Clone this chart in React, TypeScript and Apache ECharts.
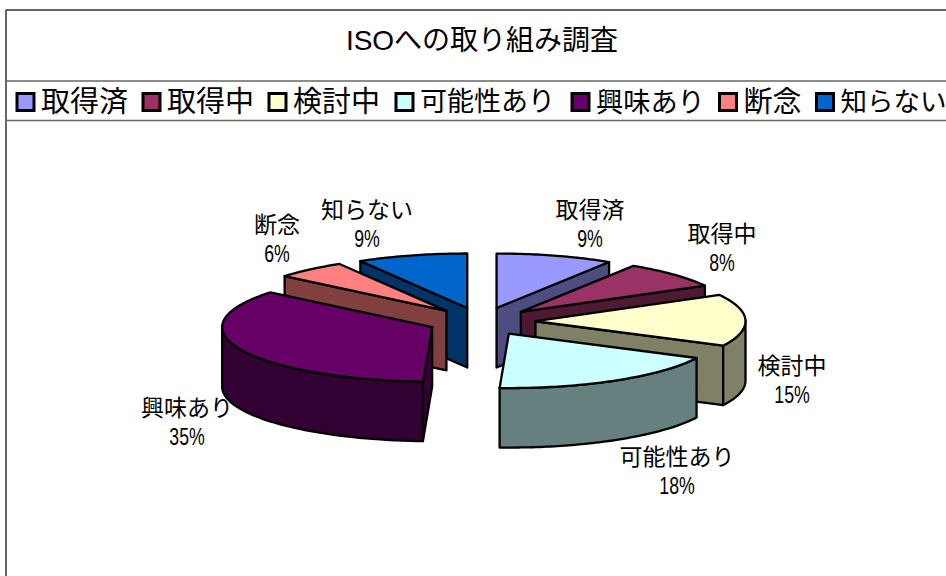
import React, { useEffect, useRef } from "react";
import * as echarts from "echarts";

const TITLE = "ISOへの取り組み調査";
const categories = ["取得済", "取得中", "検討中", "可能性あり", "興味あり", "断念", "知らない"];
const values = [9, 8, 15.4, 18.3, 35.3, 5.5, 8.5];
const topColors = ["#9999FF", "#993366", "#FFFFCC", "#CCFFFF", "#660066", "#FF8080", "#0066CC"];
const sideColors = ["#4D4D80", "#4D1933", "#808066", "#668080", "#330033", "#804040", "#003366"];

// layout only
const CENTER = { x: 481.5, y: 321.5 };
const RX = 210;
const RY = 54.5;
const DEPTH = 59.5;
const EXPLODE_X = 54;
const EXPLODE_Y = 14;
const FONT = '"Liberation Sans", "Noto Sans CJK JP", sans-serif';
const labelCenters = [
  [590, 225], [722, 249], [792, 381], [677, 472], [187, 423], [277, 240], [367, 225],
];
const legendLayout = [
  { left: 15.5, size: 29 }, { left: 141.5, size: 29 }, { left: 267.5, size: 29 },
  { left: 394.5, size: 27 }, { left: 570.5, size: 27.2 }, { left: 718, size: 29 }, { left: 815, size: 26.5 },
];

const total = values.reduce((a, b) => a + b, 0);
const rad = (d: number) => (d * Math.PI) / 180;
const slices = values.map((v, i) => {
  const before = values.slice(0, i).reduce((a, b) => a + b, 0);
  const a0 = (before / total) * 360;
  const a1 = ((before + v) / total) * 360;
  const mid = rad((a0 + a1) / 2);
  return {
    a0,
    a1,
    ax: CENTER.x + EXPLODE_X * Math.sin(mid),
    ay: CENTER.y - EXPLODE_Y * Math.cos(mid),
  };
});

function rim(ax: number, ay: number, from: number, to: number, dy = 0) {
  const pts: number[][] = [];
  const n = Math.max(2, Math.ceil(Math.abs(to - from)));
  for (let k = 0; k <= n; k++) {
    const t = rad(from + ((to - from) * k) / n);
    pts.push([ax + RX * Math.sin(t), ay - RY * Math.cos(t) + dy]);
  }
  return pts;
}

function renderSlice(i: number) {
  return () => {
    const { a0, a1, ax, ay } = slices[i];
    const lineStyle = { stroke: "#000", lineWidth: 2.3, lineJoin: "round" as const };
    const side = { ...lineStyle, fill: sideColors[i] };
    const children: any[] = [];
    const radial = (theta: number) => {
      const [p] = rim(ax, ay, theta, theta + 1).slice(0, 1);
      children.push({
        type: "polygon",
        shape: { points: [[ax, ay], p, [p[0], p[1] + DEPTH], [ax, ay + DEPTH]] },
        style: side,
      });
    };
    if (Math.sin(rad(a0)) < -1e-6) radial(a0);
    if (Math.sin(rad(a1)) > 1e-6) radial(a1);
    const from = Math.max(a0, 90);
    const to = Math.min(a1, 270);
    if (to > from) {
      children.push({
        type: "polygon",
        shape: { points: [...rim(ax, ay, from, to), ...rim(ax, ay, to, from, DEPTH)] },
        style: side,
      });
    }
    children.push({
      type: "polygon",
      shape: { points: [[ax, ay], ...rim(ax, ay, a0, a1)] },
      style: { ...lineStyle, fill: topColors[i] },
    });
    const [lx, ly] = labelCenters[i];
    children.push({
      type: "text",
      x: lx,
      y: ly - 15.5,
      style: {
        text: categories[i],
        font: `23px ${FONT}`,
        fill: "#000",
        align: "center",
        verticalAlign: "middle",
      },
    });
    children.push({
      type: "text",
      x: lx,
      y: ly + 14,
      scaleX: 0.77,
      style: {
        text: `${Math.round((values[i] / total) * 100)}%`,
        font: `23px ${FONT}`,
        fill: "#000",
        align: "center",
        verticalAlign: "middle",
      },
    });
    return { type: "group", children };
  };
}

const paintOrder = categories.map((_, i) => i).sort((p, q) => slices[p].ay - slices[q].ay);

export default function App() {
  const ref = useRef<HTMLDivElement>(null);
  useEffect(() => {
    document.body.style.margin = "0";
    const chart = echarts.init(ref.current!, undefined, { renderer: "svg" });
    const rule = (x1: number, y1: number, x2: number, y2: number, stroke: string) => ({
      type: "line",
      shape: { x1, y1, x2, y2 },
      style: { stroke, lineWidth: 1.5 },
      silent: true,
    });
    chart.setOption({
      animation: false,
      backgroundColor: "#fff",
      title: {
        text: TITLE,
        left: 482,
        top: 40,
        textAlign: "center",
        textVerticalAlign: "middle",
        padding: 0,
        textStyle: { fontFamily: FONT, fontSize: 28, fontWeight: "normal", color: "#000" },
      },
      legend: categories.map((name, i) => ({
        data: [name],
        left: legendLayout[i].left,
        top: 86,
        padding: 0,
        itemWidth: 17,
        itemHeight: 17,
        icon: "rect",
        selectedMode: false,
        itemStyle: { borderColor: "#000", borderWidth: 3, borderJoin: "miter" },
        textStyle: {
          fontFamily: FONT,
          fontSize: legendLayout[i].size,
          lineHeight: 30,
          color: "#000",
          padding: [0, 0, 2, 2],
        },
      })),
      graphic: [
        rule(6, 10, 946, 10, "#333"),
        rule(6, 10, 6, 576, "#333"),
        rule(6, 81, 946, 81, "#666"),
        rule(6, 120.5, 946, 120.5, "#666"),
      ],
      series: paintOrder.map((i) => ({
        type: "custom",
        name: categories[i],
        coordinateSystem: "none",
        data: [[values[i]]],
        itemStyle: { color: topColors[i] },
        silent: true,
        renderItem: renderSlice(i),
      })),
    });
    return () => chart.dispose();
  }, []);
  return <div ref={ref} style={{ position: "absolute", left: 0, top: 0, width: 946, height: 576 }} />;
}
